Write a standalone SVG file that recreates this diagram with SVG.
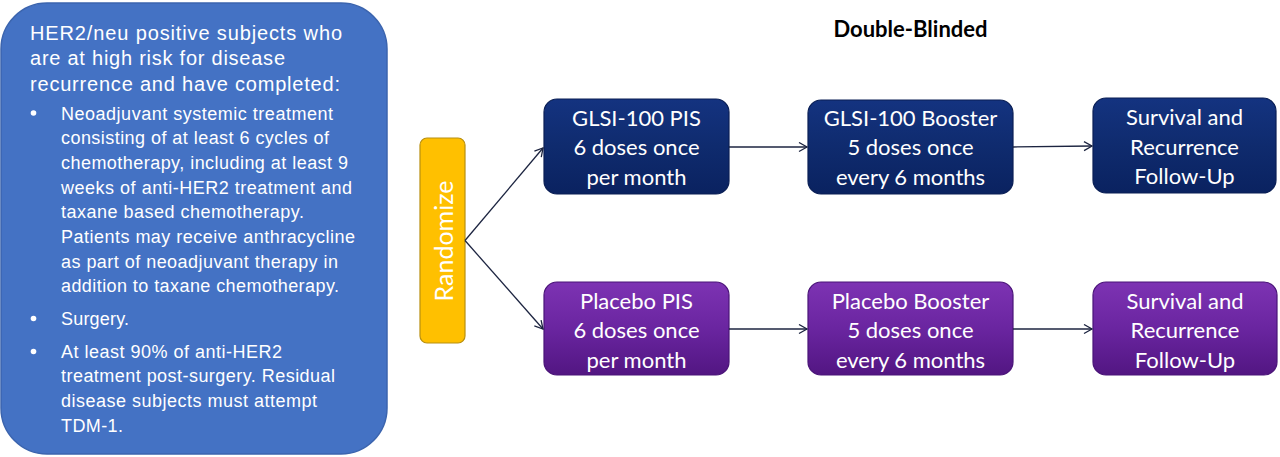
<svg xmlns="http://www.w3.org/2000/svg" width="1280" height="457" viewBox="0 0 1280 457">
<defs>
<linearGradient id="navy" x1="0" y1="0" x2="0" y2="1">
<stop offset="0" stop-color="#143380"/>
<stop offset="0.5" stop-color="#0f2b6e"/>
<stop offset="1" stop-color="#0a2260"/>
</linearGradient>
<linearGradient id="purple" x1="0" y1="0" x2="0" y2="1">
<stop offset="0" stop-color="#7d33b3"/>
<stop offset="0.5" stop-color="#6a25a0"/>
<stop offset="1" stop-color="#521682"/>
</linearGradient>
<marker id="arr" markerWidth="12" markerHeight="12" refX="9" refY="5" orient="auto" markerUnits="userSpaceOnUse">
<path d="M1,0.5 L9,5 L1,9.5" fill="none" stroke="#1c2440" stroke-width="1.3"/>
</marker>
<style>
.lt{font-family:"Liberation Sans",Arial,sans-serif;fill:#fff;}
.h{font-size:20px;}
.b{font-size:18px;}
.bx{font-family:Lato,"Open Sans",sans-serif;font-size:22px;fill:#fff;text-anchor:middle;}
.navy{fill:url(#navy);stroke:#0a1f55;stroke-width:1.2;}
.purp{fill:url(#purple);stroke:#4a1478;stroke-width:1.2;}
.con{fill:none;stroke:#1c2440;stroke-width:1.3;marker-end:url(#arr);}
</style>
</defs>
<rect width="1280" height="457" fill="#fff"/>

<g id="criteria">
<rect x="1" y="3" width="386" height="451" rx="46" ry="46" fill="#4472C4" stroke="#3b64ae" stroke-width="1.5"/>
<text class="lt h" x="30" y="39.5" textLength="312" lengthAdjust="spacing">HER2/neu positive subjects who</text>
<text class="lt h" x="30" y="65" textLength="255" lengthAdjust="spacing">are at high risk for disease</text>
<text class="lt h" x="30" y="91" textLength="310" lengthAdjust="spacing">recurrence and have completed:</text>
<circle cx="33.5" cy="113" r="2.8" fill="#fff"/>
<circle cx="33.5" cy="318.5" r="2.8" fill="#fff"/>
<circle cx="33.5" cy="351.5" r="2.8" fill="#fff"/>
<text class="lt b" x="61" y="119.5" textLength="272" lengthAdjust="spacing">Neoadjuvant systemic treatment</text>
<text class="lt b" x="61" y="144.2" textLength="268" lengthAdjust="spacing">consisting of at least 6 cycles of</text>
<text class="lt b" x="61" y="168.9" textLength="287" lengthAdjust="spacing">chemotherapy, including at least 9</text>
<text class="lt b" x="61" y="193.6" textLength="291" lengthAdjust="spacing">weeks of anti-HER2 treatment and</text>
<text class="lt b" x="61" y="218.3" textLength="243" lengthAdjust="spacing">taxane based chemotherapy.</text>
<text class="lt b" x="61" y="243" textLength="294" lengthAdjust="spacing">Patients may receive anthracycline</text>
<text class="lt b" x="61" y="267.7" textLength="277" lengthAdjust="spacing">as part of neoadjuvant therapy in</text>
<text class="lt b" x="61" y="292.4" textLength="278" lengthAdjust="spacing">addition to taxane chemotherapy.</text>
<text class="lt b" x="61" y="325" textLength="68" lengthAdjust="spacing">Surgery.</text>
<text class="lt b" x="61" y="357.7" textLength="221" lengthAdjust="spacing">At least 90% of anti-HER2</text>
<text class="lt b" x="61" y="382.4" textLength="274" lengthAdjust="spacing">treatment post-surgery. Residual</text>
<text class="lt b" x="61" y="407.1" textLength="256" lengthAdjust="spacing">disease subjects must attempt</text>
<text class="lt b" x="61" y="431.8" textLength="62" lengthAdjust="spacing">TDM-1.</text>
</g>

<g id="title">
<text x="910.5" y="37" font-family="Lato,'Open Sans',sans-serif" font-size="22" font-weight="bold" fill="#000" text-anchor="middle">Double-Blinded</text>
</g>

<g id="randomize">
<rect x="420" y="138" width="45" height="205" rx="7" ry="7" fill="#FFC000" stroke="#b88f10" stroke-width="1.2"/>
<text class="bx" transform="translate(452.5,241) rotate(-90)" x="0" y="0" font-size="25" style="font-size:25px">Randomize</text>
</g>

<g id="glsi-pis">
<rect class="navy" x="544" y="99" width="185" height="95" rx="13" ry="13"/>
<text class="bx" x="636.5" y="125.5">GLSI-100 PIS</text>
<text class="bx" x="636.5" y="155">6 doses once</text>
<text class="bx" x="636.5" y="184.5">per month</text>
</g>

<g id="glsi-booster">
<rect class="navy" x="808" y="100" width="205" height="94" rx="13" ry="13"/>
<text class="bx" x="910.5" y="125.5">GLSI-100 Booster</text>
<text class="bx" x="910.5" y="155">5 doses once</text>
<text class="bx" x="910.5" y="184.5">every 6 months</text>
</g>

<g id="glsi-followup">
<rect class="navy" x="1093" y="98" width="183" height="95" rx="13" ry="13"/>
<text class="bx" x="1184.5" y="125">Survival and</text>
<text class="bx" x="1184.5" y="154.5">Recurrence</text>
<text class="bx" x="1184.5" y="184">Follow-Up</text>
</g>

<g id="placebo-pis">
<rect class="purp" x="544" y="282" width="185" height="93" rx="13" ry="13"/>
<text class="bx" x="636.5" y="308.5">Placebo PIS</text>
<text class="bx" x="636.5" y="338">6 doses once</text>
<text class="bx" x="636.5" y="367.5">per month</text>
</g>

<g id="placebo-booster">
<rect class="purp" x="808" y="282" width="205" height="93" rx="13" ry="13"/>
<text class="bx" x="910.5" y="308.5">Placebo Booster</text>
<text class="bx" x="910.5" y="338">5 doses once</text>
<text class="bx" x="910.5" y="367.5">every 6 months</text>
</g>

<g id="placebo-followup">
<rect class="purp" x="1093" y="282" width="184" height="93" rx="13" ry="13"/>
<text class="bx" x="1185" y="308.5">Survival and</text>
<text class="bx" x="1185" y="338">Recurrence</text>
<text class="bx" x="1185" y="367.5">Follow-Up</text>
</g>

<g id="connectors">
<path class="con" d="M465,240.5 L543,148"/>
<path class="con" d="M465,240.5 L543,329"/>
<path class="con" d="M729,147 L807,147"/>
<path class="con" d="M1013,147 L1092,146"/>
<path class="con" d="M729,329 L807,329"/>
<path class="con" d="M1013,329 L1092,329"/>
</g>
</svg>
